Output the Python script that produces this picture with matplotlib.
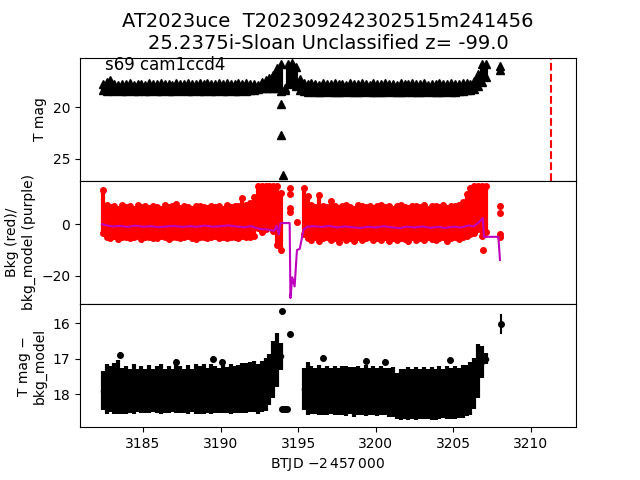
import matplotlib
matplotlib.use("Agg")
import matplotlib.pyplot as plt

######## Data ########
# time grid of the two TESS orbits, BTJD - 2457000
t_seg1 = [3182.40, 3182.65, 3182.90, 3183.15, 3183.40, 3183.65, 3183.90, 3184.15, 3184.40, 3184.65,
          3184.90, 3185.15, 3185.40, 3185.65, 3185.90, 3186.15, 3186.40, 3186.65, 3186.90, 3187.15,
          3187.40, 3187.65, 3187.90, 3188.15, 3188.40, 3188.65, 3188.90, 3189.15, 3189.40, 3189.65,
          3189.90, 3190.15, 3190.40, 3190.65, 3190.90, 3191.15, 3191.40, 3191.65, 3191.90, 3192.15,
          3192.40, 3192.65, 3192.90, 3193.15, 3193.40, 3193.65, 3193.90]
t_seg2 = [3195.35, 3195.60, 3195.85, 3196.10, 3196.35, 3196.60, 3196.85, 3197.10, 3197.35, 3197.60,
          3197.85, 3198.10, 3198.35, 3198.60, 3198.85, 3199.10, 3199.35, 3199.60, 3199.85, 3200.10,
          3200.35, 3200.60, 3200.85, 3201.10, 3201.35, 3201.60, 3201.85, 3202.10, 3202.35, 3202.60,
          3202.85, 3203.10, 3203.35, 3203.60, 3203.85, 3204.10, 3204.35, 3204.60, 3204.85, 3205.10,
          3205.35, 3205.60, 3205.85, 3206.10, 3206.35, 3206.60, 3206.85, 3207.10]

# top panel: T mag, bright / faint envelope of the cloud of points
tmag_hi_1 = [17.75, 17.55, 17.35, 17.70, 17.80, 17.70, 17.75, 17.60, 17.80, 17.70,
             17.75, 17.80, 17.65, 17.75, 17.70, 17.60, 17.75, 17.70, 17.80, 17.65,
             17.75, 17.70, 17.60, 17.75, 17.70, 17.65, 17.75, 17.60, 17.70, 17.75,
             17.65, 17.70, 17.60, 17.75, 17.70, 17.65, 17.70, 17.60, 17.70, 17.75,
             17.80, 17.50, 17.35, 17.10, 16.90, 16.20, 15.75]
tmag_lo_1 = [18.35, 18.40, 18.35, 18.40, 18.35, 18.38, 18.40, 18.35, 18.40, 18.38,
             18.35, 18.40, 18.38, 18.35, 18.40, 18.38, 18.35, 18.40, 18.38, 18.35,
             18.40, 18.35, 18.38, 18.40, 18.35, 18.38, 18.40, 18.35, 18.38, 18.40,
             18.35, 18.38, 18.40, 18.35, 18.38, 18.40, 18.35, 18.38, 18.35, 18.30,
             18.25, 18.15, 18.15, 18.15, 18.10, 18.10, 18.40]
tmag_hi_2 = [17.60, 17.75, 17.65, 17.70, 17.80, 17.65, 17.75, 17.70, 17.60, 17.75,
             17.70, 17.80, 17.65, 17.70, 17.75, 17.60, 17.70, 17.80, 17.65, 17.75,
             17.70, 17.60, 17.75, 17.70, 17.80, 17.65, 17.75, 17.70, 17.60, 17.75,
             17.70, 17.65, 17.80, 17.70, 17.75, 17.60, 17.70, 17.75, 17.65, 17.70,
             17.75, 17.60, 17.65, 17.70, 17.40, 16.80, 15.80, 15.75]
tmag_lo_2 = [18.45, 18.50, 18.45, 18.52, 18.48, 18.50, 18.45, 18.52, 18.50, 18.48,
             18.52, 18.45, 18.50, 18.48, 18.52, 18.50, 18.45, 18.50, 18.52, 18.48,
             18.50, 18.52, 18.45, 18.50, 18.48, 18.52, 18.50, 18.45, 18.52, 18.48,
             18.50, 18.52, 18.45, 18.50, 18.48, 18.52, 18.50, 18.45, 18.50, 18.48,
             18.45, 18.40, 18.35, 18.35, 18.20, 17.90, 17.50, 17.00]
t_flare = [3194.15, 3194.35, 3194.60, 3194.85, 3195.10]
tmag_hi_flare = [18.10, 15.80, 15.65, 16.10, 17.20]
tmag_lo_flare = [18.35, 17.60, 17.70, 17.90, 18.30]
t_tmag_pts = [3193.90, 3193.90, 3194.02, 3208.00, 3208.00]
tmag_pts = [19.65, 22.70, 26.60, 16.00, 16.40]
t_discovery = 3211.3

# middle panel: background (red) envelope and background model (purple)
bkg_hi_1 = [13.3, 7.5, 6.5, 7.0, 6.0, 7.5, 6.5, 6.8, 6.0, 7.2,
            6.5, 6.8, 6.2, 7.0, 6.5, 6.0, 7.2, 6.5, 6.8, 7.8,
            6.2, 7.0, 6.5, 6.0, 6.8, 7.0, 6.5, 6.2, 7.0, 6.5,
            6.8, 6.0, 7.2, 6.5, 6.8, 7.0, 10.2, 7.5, 8.0, 10.5,
            14.6, 14.6, 14.6, 14.6, 14.6, 14.6, 12.0]
bkg_lo_1 = [-3.5, -5.0, -5.5, -4.5, -5.8, -5.0, -4.8, -5.5, -5.0, -4.5,
            -5.8, -5.0, -4.8, -5.5, -5.2, -4.5, -5.0, -5.8, -5.0, -4.8,
            -5.5, -5.0, -4.5, -5.2, -5.8, -5.0, -4.8, -5.5, -5.0, -4.5,
            -5.2, -5.0, -5.5, -4.8, -5.0, -5.2, -4.5, -5.0, -5.0, -4.5,
            -1.5, -3.0, -2.0, -1.0, -2.5, -8.0, -10.0]
bkg_hi_2 = [14.0, 11.0, 7.5, 6.5, 11.3, 7.0, 6.5, 8.8, 7.0, 6.2,
            6.8, 7.2, 6.5, 6.0, 7.5, 6.8, 6.5, 7.0, 6.2, 6.8,
            7.2, 6.5, 7.0, 6.0, 6.8, 7.5, 6.5, 6.2, 7.0, 6.8,
            6.5, 7.2, 6.0, 6.8, 7.0, 6.5, 7.5, 6.2, 6.8, 7.0,
            7.5, 8.5, 11.5, 14.0, 14.6, 14.6, 14.6, 14.6]
bkg_lo_2 = [-4.0, -5.5, -6.0, -5.0, -6.5, -5.5, -5.0, -6.0, -5.5, -6.8,
            -5.0, -6.0, -5.5, -6.5, -5.0, -6.0, -5.5, -5.0, -6.2, -5.5,
            -6.0, -5.0, -6.5, -5.5, -6.0, -5.2, -5.8, -6.5, -5.0, -6.0,
            -5.5, -6.2, -5.0, -5.8, -6.0, -5.5, -5.0, -6.5, -5.5, -5.0,
            -5.8, -5.0, -4.5, -4.0, -3.5, -2.0, -4.5, -3.0]
t_bkg_pts = [3194.45, 3194.45, 3194.45, 3194.45, 3194.95, 3206.90, 3208.00, 3208.00, 3208.00, 3208.00]
bkg_pts = [14.0, 11.5, 6.3, 4.8, 1.0, -10.0, 6.8, 4.4, -3.8, -4.8]

t_model = [3182.35, 3182.6, 3183.0, 3183.5, 3184.0, 3184.5, 3185.0, 3185.5, 3186.0, 3186.5,
           3187.0, 3187.5, 3188.0, 3188.5, 3189.0, 3189.5, 3190.0, 3190.5, 3191.0, 3191.5,
           3192.0, 3192.3, 3192.6, 3192.9, 3193.2, 3193.45, 3193.6, 3193.75, 3193.85, 3194.45,
           3194.5, 3194.62, 3194.77, 3194.92, 3195.1, 3195.35, 3195.6, 3196.0, 3196.5, 3197.0,
           3197.5, 3198.0, 3198.5, 3199.0, 3199.5, 3200.0, 3200.5, 3201.0, 3201.5, 3202.0,
           3202.5, 3203.0, 3203.5, 3204.0, 3204.5, 3205.0, 3205.5, 3206.0, 3206.3, 3206.6,
           3206.9, 3206.97, 3207.9, 3208.0]
bkg_model = [0.0, -0.4, -0.9, -0.7, -1.1, -0.6, -1.0, -0.8, -1.2, -0.9,
             -0.7, -1.1, -0.8, -1.0, -0.6, -1.0, -0.8, -0.5, -0.9, -1.2,
             -0.8, -1.5, -1.9, -2.0, -2.3, -2.6, -0.6, -4.0, 0.4, 0.4,
             -28.5, -20.5, -24.0, -10.0, -9.5, -2.0, -1.0, -0.8, -1.1, -0.7,
             -1.3, -0.9, -1.2, -1.5, -1.0, -1.3, -0.8, -1.2, -1.6, -1.0,
             -1.3, -0.9, -1.4, -1.1, -1.5, -1.0, -1.3, -0.5, -0.9, 0.5,
             2.3, -4.9, -4.9, -13.8]

# bottom panel: T mag - bkg_model with errors
diff_1 = [17.90, 17.85, 17.85, 17.83, 17.80, 17.90, 17.88, 17.90, 17.85, 17.90,
          17.88, 17.90, 17.86, 17.90, 17.88, 17.85, 17.90, 17.87, 17.90, 17.82,
          17.88, 17.90, 17.87, 17.90, 17.85, 17.88, 17.86, 17.90, 17.85, 17.88,
          17.90, 17.86, 17.88, 17.85, 17.87, 17.85, 17.83, 17.82, 17.80, 17.78,
          17.85, 17.78, 17.72, 17.58, 17.30, 17.04, 16.93]
diff_err_1 = [0.55, 0.70, 0.65, 0.72, 0.75, 0.65, 0.68, 0.62, 0.70, 0.60,
              0.66, 0.62, 0.68, 0.60, 0.66, 0.70, 0.62, 0.67, 0.60, 0.72,
              0.66, 0.62, 0.68, 0.60, 0.70, 0.67, 0.70, 0.63, 0.70, 0.66,
              0.63, 0.68, 0.65, 0.70, 0.66, 0.68, 0.70, 0.70, 0.70, 0.72,
              0.70, 0.72, 0.74, 0.72, 0.80, 0.76, 0.38]
diff_2 = [17.85, 17.85, 17.88, 17.90, 17.88, 17.92, 17.90, 17.92, 17.90, 17.93,
          17.90, 17.92, 17.90, 17.93, 17.90, 17.92, 17.90, 17.92, 17.90, 17.93,
          17.90, 17.92, 17.95, 17.93, 18.05, 18.00, 18.00, 17.98, 18.00, 17.98,
          18.00, 17.97, 18.00, 17.98, 18.00, 17.96, 17.98, 17.95, 17.97, 17.95,
          17.96, 17.93, 17.90, 17.85, 17.70, 17.35, 17.10, 17.00]
diff_err_2 = [0.60, 0.75, 0.68, 0.65, 0.70, 0.66, 0.68, 0.65, 0.70, 0.66,
              0.68, 0.70, 0.66, 0.70, 0.68, 0.66, 0.72, 0.66, 0.70, 0.68,
              0.70, 0.66, 0.68, 0.70, 0.65, 0.72, 0.70, 0.74, 0.70, 0.75,
              0.70, 0.74, 0.70, 0.75, 0.72, 0.74, 0.70, 0.75, 0.72, 0.74,
              0.70, 0.74, 0.72, 0.75, 0.72, 0.75, 0.45, 0.15]
t_diff_pts = [3183.50, 3187.10, 3189.50, 3190.10, 3193.96, 3194.50, 3193.95, 3194.05, 3194.15, 3194.25,
              3196.60, 3199.40, 3200.60, 3204.80, 3208.05]
diff_pts = [16.90, 17.08, 17.00, 17.10, 15.65, 16.31, 18.41, 18.41, 18.41, 18.41,
            16.97, 17.07, 17.10, 17.05, 16.02]
diff_pts_err = [0.08, 0.08, 0.08, 0.08, 0.03, 0.04, 0.02, 0.02, 0.02, 0.02,
                0.08, 0.08, 0.08, 0.08, 0.28]

title = "AT2023uce  T202309242302515m241456\n25.2375i-Sloan Unclassified z= -99.0"
field_label = "s69 cam1ccd4"

#############################

fig, (ax1, ax2, ax3) = plt.subplots(3, 1, sharex=True, figsize=(6.4, 4.8), dpi=100)
fig.subplots_adjust(hspace=0)

# top: T mag
for t, hi, lo in [(t_seg1, tmag_hi_1, tmag_lo_1), (t_seg2, tmag_hi_2, tmag_lo_2), (t_flare, tmag_hi_flare, tmag_lo_flare)]:
    ax1.vlines(t, hi, lo, color='k', lw=3)
    ax1.plot(t, hi, 'k^', ms=6, ls='none')
    ax1.plot(t, lo, 'k^', ms=6, ls='none')
ax1.plot(t_tmag_pts, tmag_pts, 'k^', ms=6, ls='none')
ax1.axvline(t_discovery, color='r', ls='--', lw=1.5)
ax1.set_ylim(27.14, 15.16)
ax1.set_yticks([20, 25])
ax1.set_ylabel("T mag")
ax1.text(0.05, 0.9, field_label, transform=ax1.transAxes, fontsize=12)
ax1.set_title(title, fontsize=14)

# middle: background and model
for t, hi, lo in [(t_seg1, bkg_hi_1, bkg_lo_1), (t_seg2, bkg_hi_2, bkg_lo_2)]:
    ax2.vlines(t, lo, hi, color='r', lw=3)
    ax2.plot(t, hi, 'ro', ms=4, ls='none')
    ax2.plot(t, lo, 'ro', ms=4, ls='none')
ax2.plot(t_bkg_pts, bkg_pts, 'ro', ms=4, ls='none')
ax2.plot(t_model, bkg_model, color='m', lw=1.5)
ax2.set_ylim(-30.8, 16.7)
ax2.set_yticks([-20, 0])
ax2.set_ylabel("Bkg (red)/\nbkg_model (purple)")

# bottom: difference light curve
ax3.errorbar(t_seg1, diff_1, yerr=diff_err_1, fmt='ko', ms=3, elinewidth=3)
ax3.errorbar(t_seg2, diff_2, yerr=diff_err_2, fmt='ko', ms=3, elinewidth=3)
ax3.errorbar(t_diff_pts, diff_pts, yerr=diff_pts_err, fmt='ko', ms=4, elinewidth=1.5)
ax3.set_ylim(18.93, 15.46)
ax3.set_yticks([16, 17, 18])
ax3.set_ylabel("T mag \u2212\nbkg_model")

ax3.set_xlim(3180.94, 3212.9)
ax3.set_xticks([3185, 3190, 3195, 3200, 3205, 3210])
ax3.set_xlabel(r"BTJD $-2\,457\,000$")
for ax in (ax1, ax2):
    ax.tick_params(axis='x', bottom=False, labelbottom=False)

plt.savefig("out.png")
